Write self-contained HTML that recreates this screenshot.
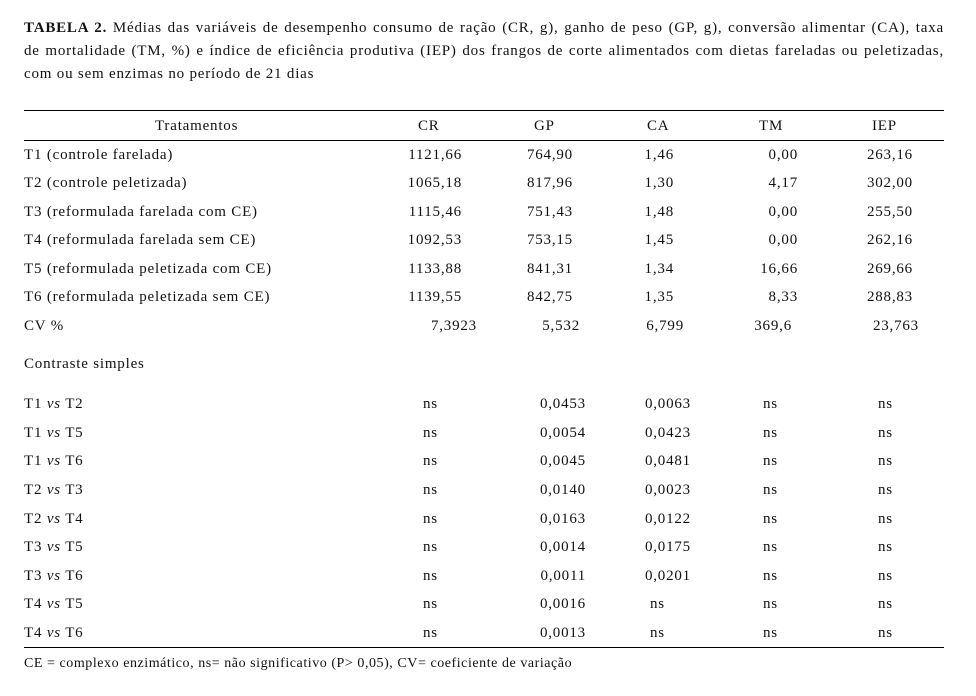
<!DOCTYPE html>
<html><head><meta charset="utf-8"><style>
body{margin:0;background:#fff;width:976px;height:696px;position:relative;font-family:"Liberation Serif",serif;font-size:15px;color:#111;overflow:hidden;letter-spacing:0.8px}
.tl{position:absolute;left:24px;width:920px;text-align:justify;text-align-last:justify;line-height:18px;white-space:nowrap}
.r{position:absolute;height:1px;background:#000;left:24px;width:920px}
.a{position:absolute;white-space:nowrap;line-height:18px}
.R{position:absolute;white-space:nowrap;line-height:18px;text-align:right}
</style></head><body>
<div class="tl" style="top:19px;white-space:normal"><b>TABELA 2.</b> Médias das variáveis de desempenho consumo de ração (CR, g), ganho de peso (GP, g), conversão alimentar (CA), taxa</div>
<div class="tl" style="top:42px;white-space:normal">de mortalidade (TM, %) e índice de eficiência produtiva (IEP) dos frangos de corte alimentados com dietas fareladas ou peletizadas,</div>
<div class="a" style="left:24px;top:65px">com ou sem enzimas no período de 21 dias</div>
<div class="r" style="top:110px"></div>
<div class="r" style="top:140px"></div>
<div class="r" style="top:647px"></div>
<div id="c"></div>
<div class="a" style="left:24px;top:655px;font-size:14px;letter-spacing:0.55px">CE = complexo enzimático, ns= não significativo (P&gt; 0,05), CV= coeficiente de variação</div>
<script>
var c=document.getElementById('c'),h='';
function A(x,y,s){h+='<div class="a" style="left:'+x+'px;top:'+(y-9)+'px">'+s+'</div>';}
function Rt(x,y,s){h+='<div class="R" style="right:'+(976-x)+'px;top:'+(y-9)+'px">'+s+'</div>';}
A(155,126,'Tratamentos');A(418,126,'CR');A(534,126,'GP');A(647,126,'CA');A(759,126,'TM');A(872,126,'IEP');
var rows=[['T1 (controle farelada)','1121,66','764,90','1,46','0,00','263,16'],
['T2 (controle peletizada)','1065,18','817,96','1,30','4,17','302,00'],
['T3 (reformulada farelada com CE)','1115,46','751,43','1,48','0,00','255,50'],
['T4 (reformulada farelada sem CE)','1092,53','753,15','1,45','0,00','262,16'],
['T5 (reformulada peletizada com CE)','1133,88','841,31','1,34','16,66','269,66'],
['T6 (reformulada peletizada sem CE)','1139,55','842,75','1,35','8,33','288,83']];
var ys=[155,183,212,240,269,297];
rows.forEach(function(r,i){var y=ys[i];A(24,y,r[0]);Rt(462,y,r[1]);Rt(573,y,r[2]);Rt(674,y,r[3]);Rt(798,y,r[4]);Rt(913,y,r[5]);});
A(24,326,'CV %');Rt(477,326,'7,3923');Rt(580,326,'5,532');Rt(684,326,'6,799');Rt(792,326,'369,6');Rt(919,326,'23,763');
A(24,364,'Contraste simples');
var cs=[['T1','T2','0,0453','0,0063'],['T1','T5','0,0054','0,0423'],['T1','T6','0,0045','0,0481'],['T2','T3','0,0140','0,0023'],['T2','T4','0,0163','0,0122'],['T3','T5','0,0014','0,0175'],['T3','T6','0,0011','0,0201'],['T4','T5','0,0016','ns'],['T4','T6','0,0013','ns']];
var cy=[404,433,461,490,519,547,576,604,633];
cs.forEach(function(r,i){var y=cy[i];A(24,y,r[0]+' <i>vs</i> '+r[1]);A(423,y,'ns');Rt(586,y,r[2]);
if(r[3]=='ns')A(650,y,'ns');else Rt(691,y,r[3]);A(763,y,'ns');A(878,y,'ns');});
c.innerHTML=h;
</script>
</body></html>
